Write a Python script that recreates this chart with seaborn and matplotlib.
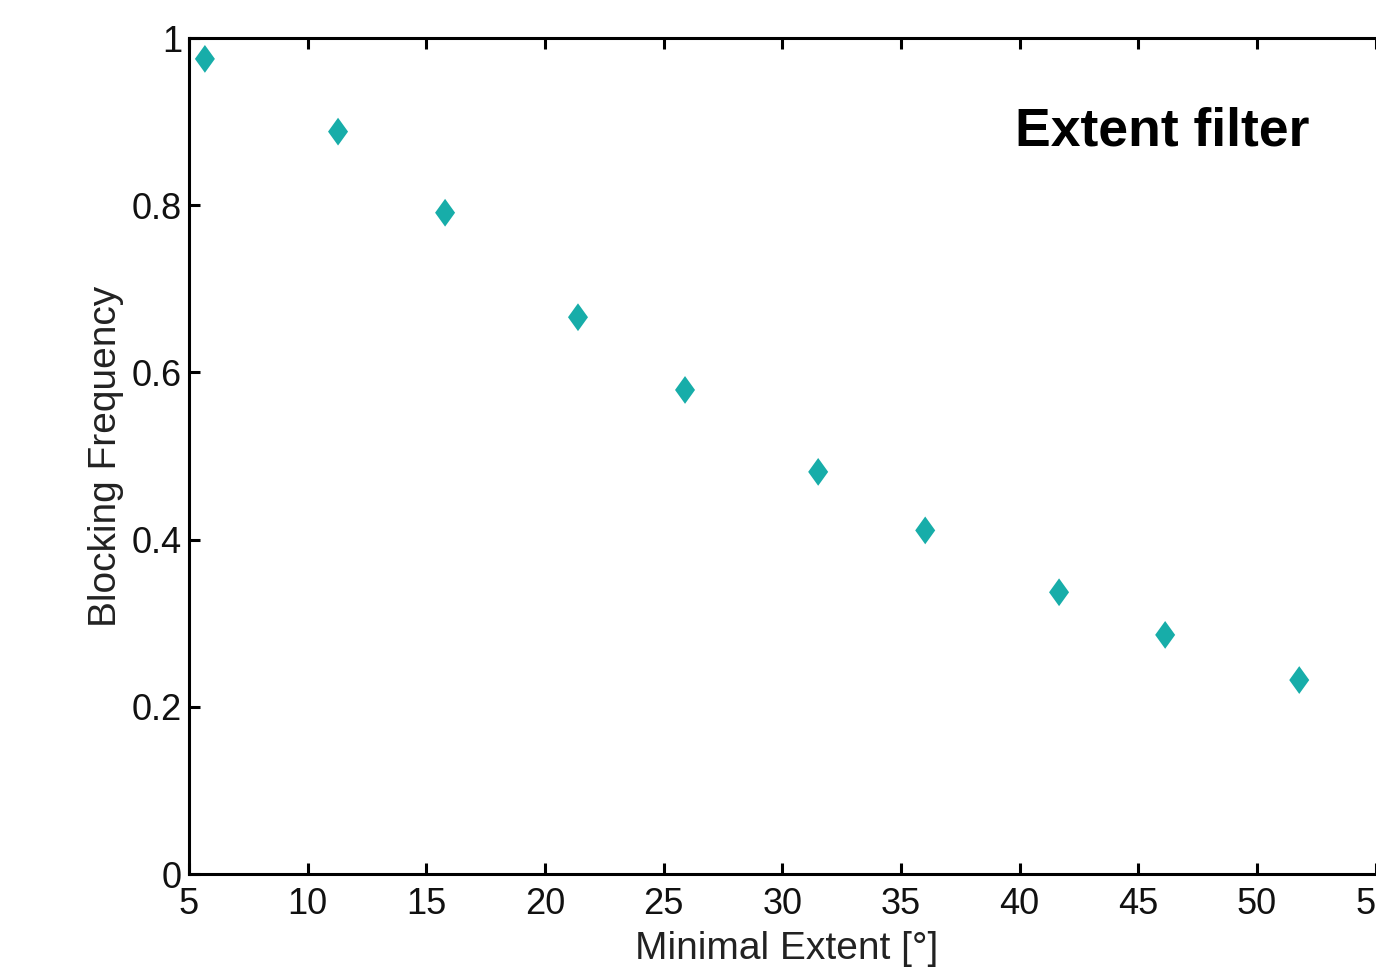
import numpy as np
import pandas as pd
import matplotlib
matplotlib.use("Agg")
import matplotlib.pyplot as plt
from matplotlib.path import Path
import seaborn as sns

# Blocking frequency as a function of the minimal extent threshold
min_extent = [5.67, 11.28, 15.79, 21.39, 25.90, 31.51, 36.02, 41.66, 46.13, 51.78]
blocking_freq = [0.975, 0.888, 0.791, 0.666, 0.579, 0.481, 0.411, 0.337, 0.286, 0.232]

x_ticks = [5, 10, 15, 20, 25, 30, 35, 40, 45, 50, 55]
y_ticks = [0, 0.2, 0.4, 0.6, 0.8, 1.0]
y_tick_labels = ["0", "0.2", "0.4", "0.6", "0.8", "1"]

df = pd.DataFrame({"extent": min_extent, "freq": blocking_freq})

sns.set_theme(style="white")
plt.rcParams["font.family"] = ["Liberation Sans", "DejaVu Sans"]

W, H = 1376, 972
fig = plt.figure(figsize=(W / 100, H / 100), dpi=100)
fig.patch.set_facecolor("white")

# axes box in pixels: left spine at 189, top 38, bottom 874, x extends past the right edge
left_px, top_px, bottom_px = 189, 38, 874
x_lo, x_hi = 5, 55.5
px_per_unit = (1257 - 189) / 45.0
right_px = left_px + (x_hi - x_lo) * px_per_unit
ax = fig.add_axes([left_px / W, (H - bottom_px) / H,
                   (right_px - left_px) / W, (bottom_px - top_px) / H])
ax.set_facecolor("white")

# tall rhombus marker
diamond = Path([(0, 1), (0.72, 0), (0, -1), (-0.72, 0), (0, 1)],
               [Path.MOVETO, Path.LINETO, Path.LINETO, Path.LINETO, Path.CLOSEPOLY])

sns.scatterplot(data=df, x="extent", y="freq", ax=ax, marker=diamond,
                s=20 ** 2, color="#17ADA9", edgecolor="none", linewidth=0,
                legend=False, zorder=3)

ax.set_xlim(x_lo, x_hi)
ax.set_ylim(0, 1)
ax.set_xticks(x_ticks)
ax.set_xticklabels([str(t) for t in x_ticks])
ax.set_yticks(y_ticks)
ax.set_yticklabels(y_tick_labels)

for side in ["left", "right", "top", "bottom"]:
    ax.spines[side].set_visible(True)
    ax.spines[side].set_color("black")
    ax.spines[side].set_linewidth(2.2)

ax.tick_params(axis="both", which="major", direction="in", length=8, width=2.2,
               color="black", labelcolor="#111111", labelsize=26,
               top=True, right=True, bottom=True, left=True)
ax.tick_params(axis="x", pad=9)
ax.tick_params(axis="y", pad=5)

ax.set_xlabel("Minimal Extent [°]", fontsize=28, color="#222222")
ax.set_ylabel("Blocking Frequency", fontsize=28, color="#222222")
ax_w = right_px - left_px
ax_h = bottom_px - top_px
ax.xaxis.set_label_coords((787 - left_px) / ax_w, -(931 - bottom_px) / ax_h)
ax.yaxis.set_label_coords(-(left_px - 124) / ax_w, 0.5)

fig.text(1015 / W, 1 - 132 / H, "Extent filter", fontsize=38.5, fontweight="bold",
         color="black", ha="left", va="center")

fig.savefig("out.png", dpi=100, facecolor="white")
